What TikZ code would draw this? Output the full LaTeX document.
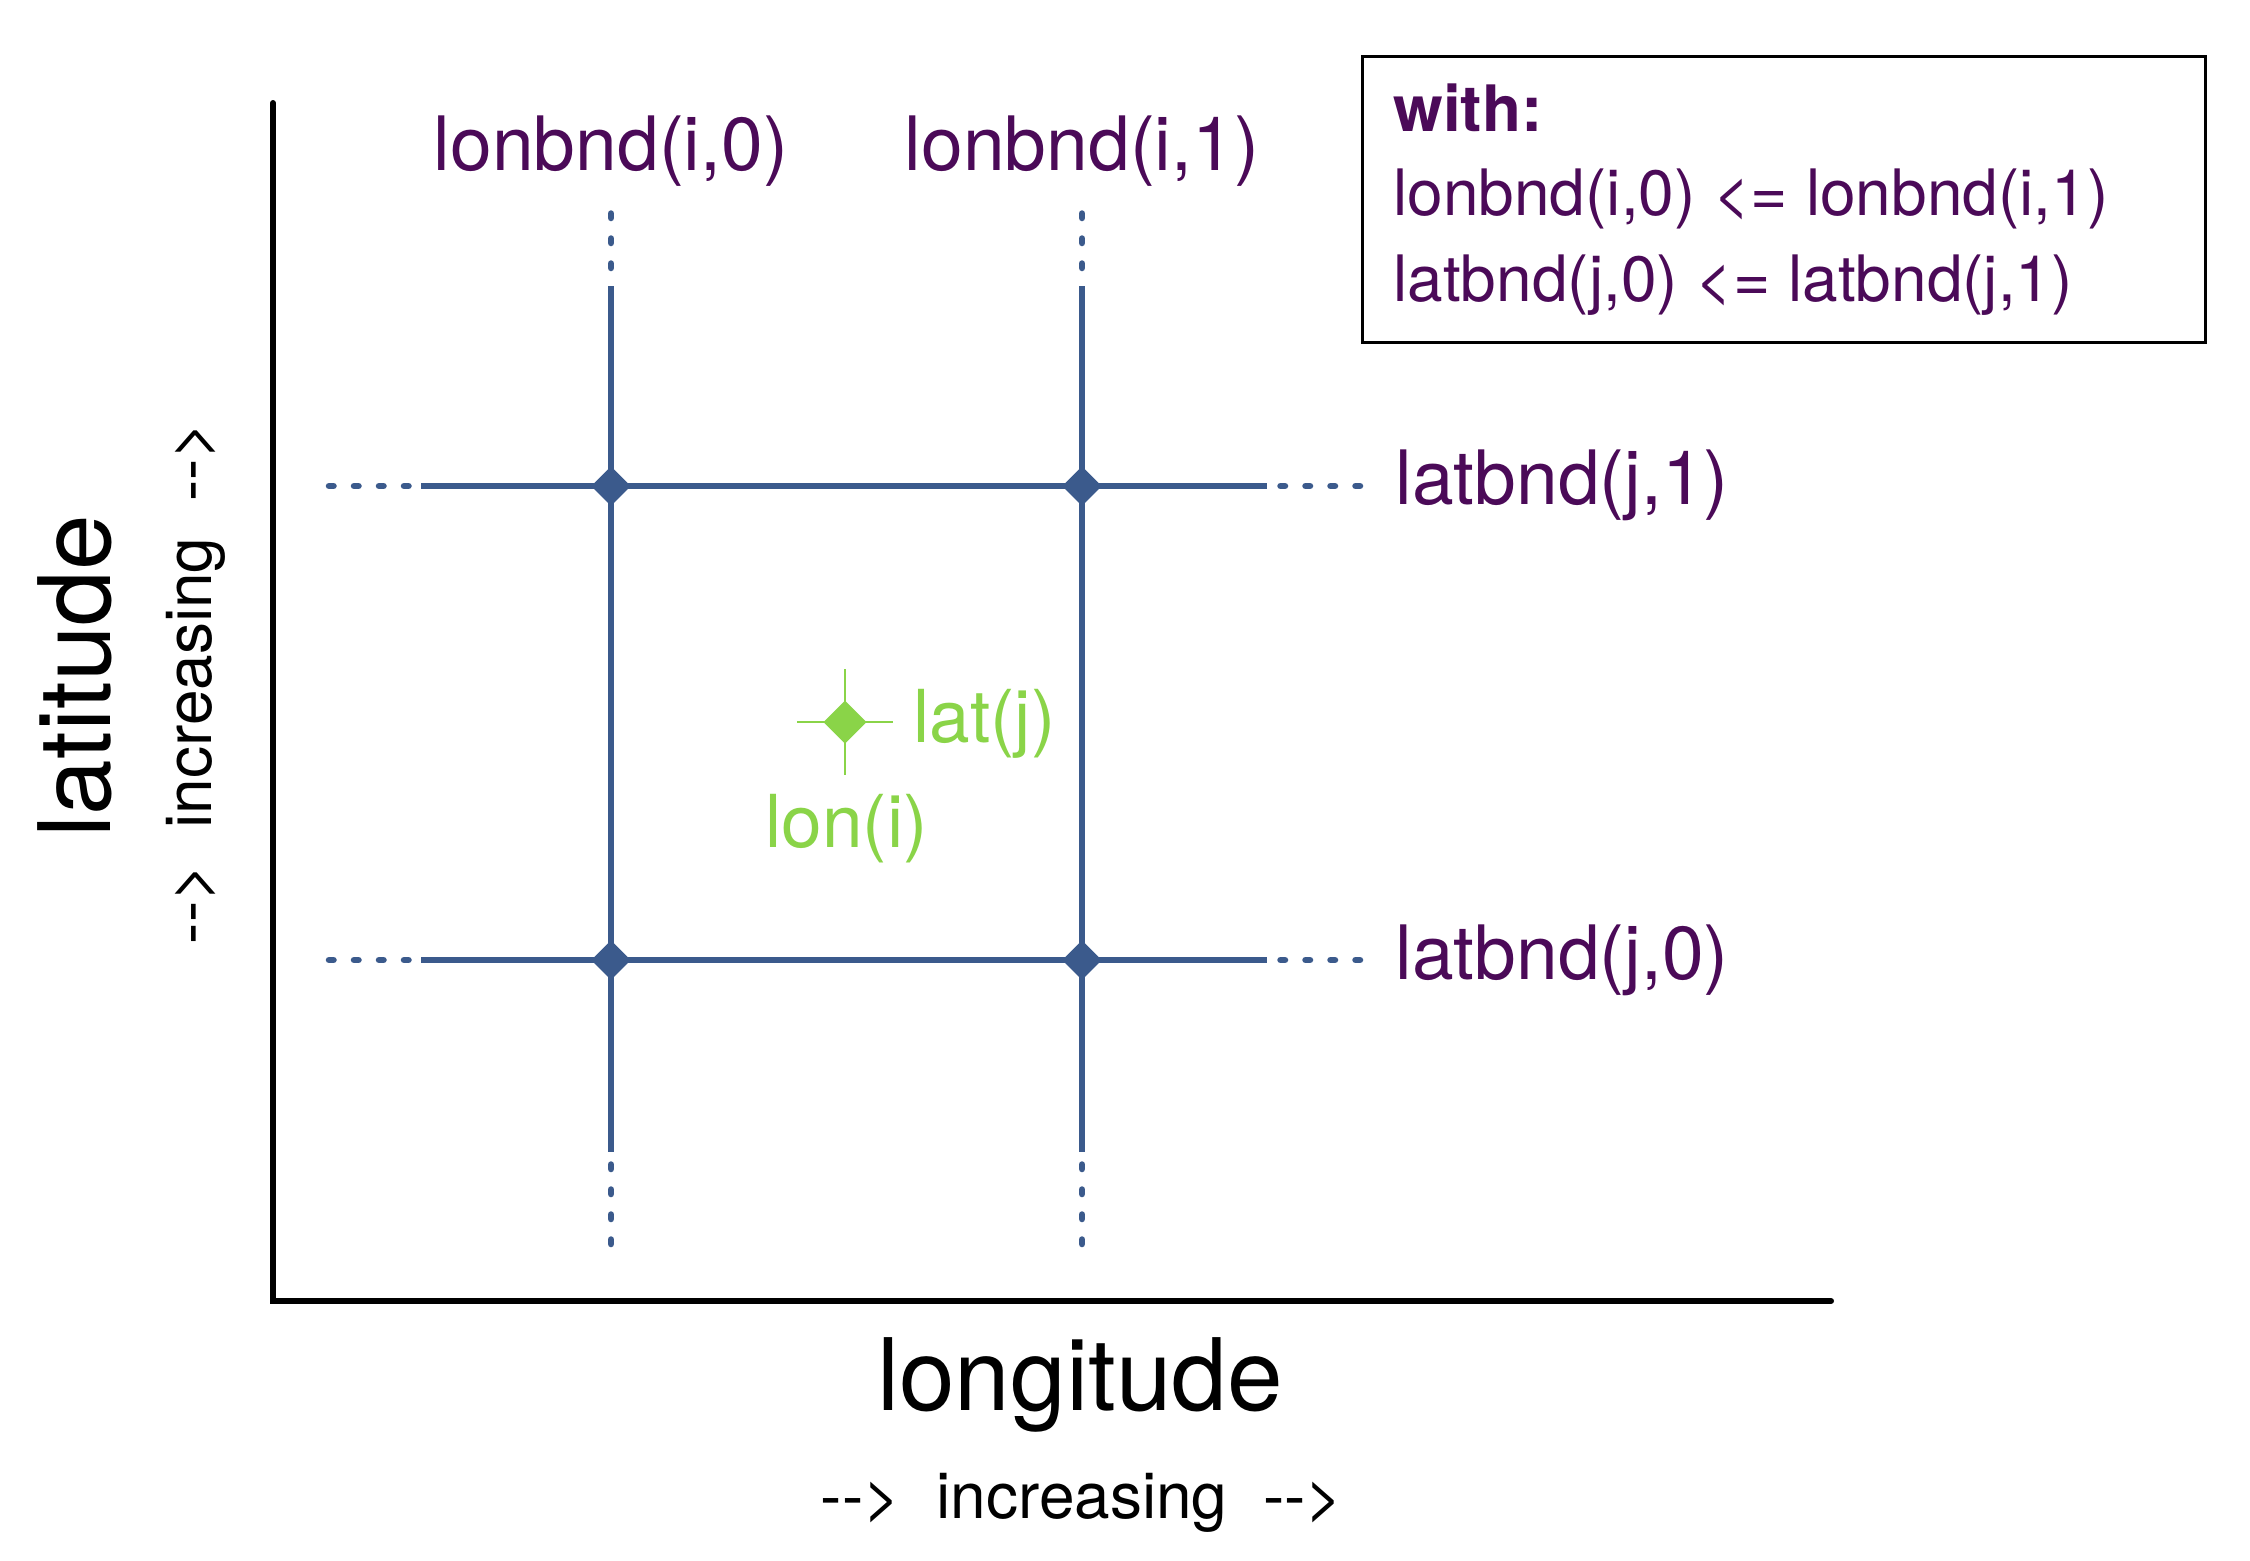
\documentclass[tikz,border=0pt]{standalone}
\usepackage{fontspec}
\setmainfont{TeX Gyre Heros}
\definecolor{lblpurple}{RGB}{75,10,88}
\definecolor{gridblue}{RGB}{59,90,140}
\definecolor{ptgreen}{RGB}{138,212,72}
\newcommand{\arr}{\mbox{-}\mbox{-}>}
\tikzset{
  gridline/.style={draw=gridblue, line width=3.25pt},
  griddots/.style={draw=gridblue, line width=3.25pt, line cap=round, dash pattern=on 2.25pt off 10.25pt},
  bndlabel/.style={text=lblpurple, inner sep=0pt, font=\fontsize{37.5}{40}\selectfont},
  boxtext/.style={text=lblpurple, inner sep=0pt, anchor=base west, font=\fontsize{32}{36}\selectfont},
  axislabel/.style={inner sep=0pt, anchor=base, font=\fontsize{50}{54}\selectfont},
  incrlabel/.style={inner sep=0pt, anchor=base, font=\fontsize{32}{36}\selectfont},
  greenlabel/.style={text=ptgreen, inner sep=0pt, anchor=base west, font=\fontsize{36.5}{40}\selectfont},
}
\newcommand{\cornermark}[3]{\fill[#3] (#1) ++(-#2,0) -- ++(#2,-#2) -- ++(#2,#2) -- ++(-#2,#2) -- cycle;}
\begin{document}
\begin{tikzpicture}[x=0.5pt, y=-0.5pt]
\useasboundingbox (0,0) rectangle (2250,1560);
\fill[white] (0,0) rectangle (2250,1560);

% grid coordinates
\coordinate (c00) at (611,960);
\coordinate (c10) at (1082,960);
\coordinate (c01) at (611,486);
\coordinate (c11) at (1082,486);
% solid ends
\coordinate (h1l) at (421,486);  \coordinate (h1r) at (1267,486);
\coordinate (h0l) at (421,960);  \coordinate (h0r) at (1267,960);
\coordinate (v0t) at (611,286);  \coordinate (v0b) at (611,1152);
\coordinate (v1t) at (1082,286); \coordinate (v1b) at (1082,1152);
% dotted outer ends
\coordinate (h1lo) at (329,486);  \coordinate (h1ro) at (1360,486);
\coordinate (h0lo) at (329,960);  \coordinate (h0ro) at (1360,960);
\coordinate (v0to) at (611,213.5); \coordinate (v0bo) at (611,1244);
\coordinate (v1to) at (1082,213.5); \coordinate (v1bo) at (1082,1244);

% axes
\coordinate (ytop) at (273,103);
\coordinate (orig) at (273,1301);
\coordinate (xend) at (1831,1301);
\draw[line width=3pt, line cap=round] (ytop) -- (orig) -- (xend);

% solid grid lines
\draw[gridline] (h1l) -- (h1r);
\draw[gridline] (h0l) -- (h0r);
\draw[gridline] (v0t) -- (v0b);
\draw[gridline] (v1t) -- (v1b);
% dotted extensions
\draw[griddots] (h1lo) -- (h1l);
\draw[griddots] (h0lo) -- (h0l);
\draw[griddots] (h1ro) -- (h1r);
\draw[griddots] (h0ro) -- (h0r);
\draw[griddots] (v0to) -- (v0t);
\draw[griddots] (v1to) -- (v1t);
\draw[griddots] (v0bo) -- (v0b);
\draw[griddots] (v1bo) -- (v1b);

% corner markers
\cornermark{c00}{19.75}{gridblue}
\cornermark{c10}{19.75}{gridblue}
\cornermark{c01}{19.75}{gridblue}
\cornermark{c11}{19.75}{gridblue}

% centre point
\coordinate (pc) at (845,722);
\coordinate (pl) at (797,722); \coordinate (pr) at (893,722);
\coordinate (pt) at (845,669); \coordinate (pb) at (845,775);
\draw[ptgreen, line width=1.4pt] (pl) -- (pr);
\draw[ptgreen, line width=1.4pt] (pt) -- (pb);
\cornermark{pc}{21.5}{ptgreen}
\node[greenlabel] (latj) at (913,742) {lat(j)};
\node[greenlabel] (loni) at (765,847) {lon(i)};

% bound labels
\node[bndlabel, anchor=base] (lb0) at (611,170) {lonbnd(i,0)};
\node[bndlabel, anchor=base] (lb1) at (1082,170) {lonbnd(i,1)};
\node[bndlabel, anchor=base west] (tb1) at (1395,504) {latbnd(j,1)};
\node[bndlabel, anchor=base west] (tb0) at (1395,979) {latbnd(j,0)};

% axis labels
\node[axislabel] (xlab) at (1080,1410) {longitude};
\node[incrlabel] (xinc) at (1082,1518) {\arr\ \ increasing\ \ \arr};
\node[axislabel, rotate=90] (ylab) at (110,676) {latitude};
\node[incrlabel, rotate=90] (yinc) at (211,683) {\arr\ \ increasing\ \ \arr};

% legend box
\node[draw=black, line width=1.25pt, inner sep=0pt, minimum width=421.5pt, minimum height=143pt, anchor=north west] (legend) at (1361,55) {};
\node[boxtext, font=\fontsize{32}{36}\selectfont\bfseries] (with) at (1393,131) {with:};
\node[boxtext] (rel1) at (1393,215) {lonbnd(i,0) <= lonbnd(i,1)};
\node[boxtext] (rel2) at (1393,301) {latbnd(j,0) <= latbnd(j,1)};
\end{tikzpicture}
\end{document}
